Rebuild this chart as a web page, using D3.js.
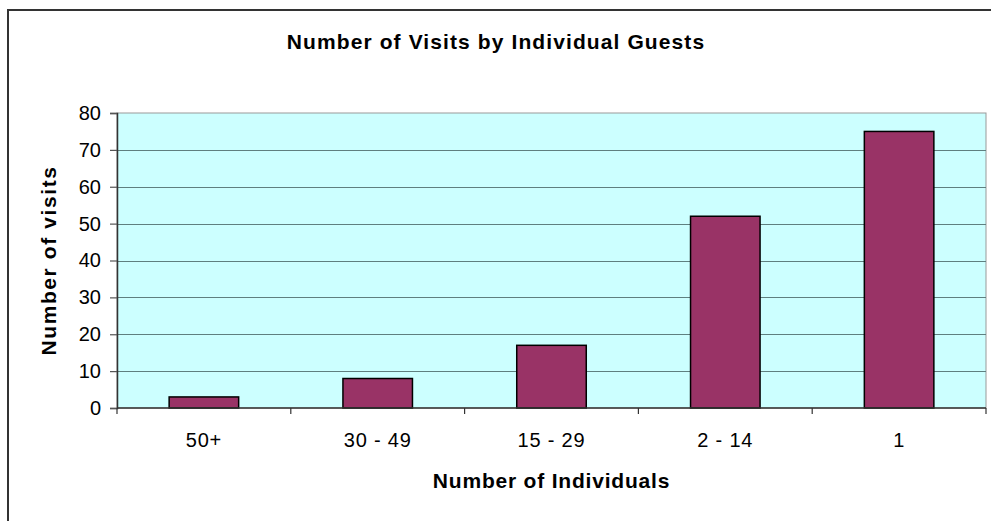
<!DOCTYPE html>
<html>
<head>
<meta charset="utf-8">
<script src="https://cdn.jsdelivr.net/npm/d3@7"></script>
<style>
  body { margin: 0; background: #fff; }
  svg { display: block; font-family: "Liberation Sans", Arial, sans-serif; }
</style>
</head>
<body>
<svg id="chart"></svg>
<script>
// data
var categories = ['50+', '30 - 49', '15 - 29', '2 - 14', '1'];
var visits = [3, 8, 17, 52, 75];
var yTicks = [0, 10, 20, 30, 40, 50, 60, 70, 80];

var W = 991, H = 521;
var margin = { top: 113, right: 5, bottom: 113, left: 117 };
var width = W - margin.left - margin.right;
var height = H - margin.top - margin.bottom;

var svg = d3.select('#chart')
    .attr('width', W)
    .attr('height', H);

// outer chart frame (runs off the right and bottom edges)
svg.append('rect')
    .attr('x', 8)
    .attr('y', 10)
    .attr('width', W + 20)
    .attr('height', H + 20)
    .attr('fill', '#fff')
    .attr('stroke', '#333')
    .attr('stroke-width', 2);

svg.append('text')
    .attr('x', 496)
    .attr('y', 49)
    .attr('text-anchor', 'middle')
    .style('font-size', '21px')
    .style('font-weight', 'bold')
    .style('letter-spacing', '1.1px')
    .text('Number of Visits by Individual Guests');

var g = svg.append('g')
    .attr('transform', 'translate(' + margin.left + ',' + margin.top + ')');

var x = d3.scaleBand()
    .domain(categories)
    .range([0, width])
    .paddingInner(0.6)
    .paddingOuter(0.3);

var y = d3.scaleLinear()
    .domain([0, 80])
    .range([height, 0]);

// plot background
g.append('rect')
    .attr('width', width)
    .attr('height', height)
    .attr('fill', '#ccffff')
    .attr('stroke', '#999')
    .attr('stroke-width', 1);

// gridlines
g.selectAll('.grid')
    .data(yTicks.filter(function (d) { return d > 0 && d < 80; }))
    .enter().append('line')
    .attr('x1', 0)
    .attr('x2', width)
    .attr('y1', function (d) { return Math.round(y(d)) + 0.5; })
    .attr('y2', function (d) { return Math.round(y(d)) + 0.5; })
    .attr('stroke', '#5f7f7f')
    .attr('stroke-width', 1.2);

// bars
g.selectAll('.bar')
    .data(visits)
    .enter().append('rect')
    .attr('x', function (d, i) { return x(categories[i]); })
    .attr('y', function (d) { return y(d); })
    .attr('width', x.bandwidth())
    .attr('height', function (d) { return height - y(d); })
    .attr('fill', '#993366')
    .attr('stroke', '#000')
    .attr('stroke-width', 1.5);

// y axis
var yAxis = g.append('g')
    .call(d3.axisLeft(y).tickValues(yTicks).tickSize(7).tickPadding(9));
yAxis.select('.domain').attr('stroke', '#333').attr('stroke-width', 1.5);
yAxis.selectAll('.tick line').attr('stroke', '#555').attr('stroke-width', 1.2);
yAxis.selectAll('.tick text')
    .style('font-size', '20px')
    .attr('fill', '#000');

// x axis: ticks at category boundaries
var xAxis = g.append('g')
    .attr('transform', 'translate(0,' + height + ')');
xAxis.append('line')
    .attr('x1', 0).attr('x2', width)
    .attr('stroke', '#333').attr('stroke-width', 1.5);
var step = x.step();
var bounds = d3.range(categories.length + 1).map(function (i) { return x(categories[0]) - x.step() * x.paddingOuter() + i * step; });
xAxis.selectAll('.xtick')
    .data(bounds)
    .enter().append('line')
    .attr('x1', function (d) { return d; })
    .attr('x2', function (d) { return d; })
    .attr('y1', 0)
    .attr('y2', 6)
    .attr('stroke', '#333')
    .attr('stroke-width', 1.2);
xAxis.selectAll('.xlabel')
    .data(categories)
    .enter().append('text')
    .attr('x', function (d) { return x(d) + x.bandwidth() / 2; })
    .attr('y', 39)
    .attr('text-anchor', 'middle')
    .style('font-size', '20px')
    .style('letter-spacing', '0.8px')
    .text(function (d) { return d; });

// axis titles
svg.append('text')
    .attr('x', margin.left + width / 2)
    .attr('y', 488)
    .attr('text-anchor', 'middle')
    .style('font-size', '21px')
    .style('font-weight', 'bold')
    .style('letter-spacing', '0.8px')
    .text('Number of Individuals');

svg.append('text')
    .attr('transform', 'translate(56,' + (margin.top + height / 2) + ') rotate(-90)')
    .attr('text-anchor', 'middle')
    .style('font-size', '21px')
    .style('font-weight', 'bold')
    .style('letter-spacing', '1.6px')
    .text('Number of visits');
</script>
</body>
</html>
